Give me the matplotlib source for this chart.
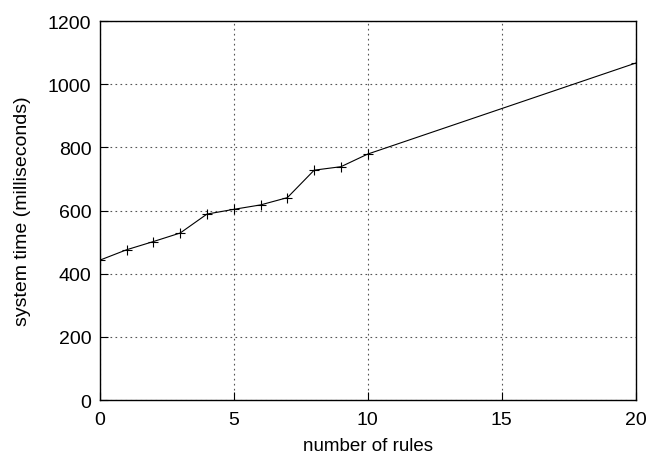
import matplotlib
matplotlib.use("Agg")
import matplotlib.pyplot as plt

# ── Dati ──────────────────────────────────────────────────────────────────────
rules = [0, 1, 2, 3, 4, 5, 6, 7, 8, 9, 10, 20]
system_ms = [443, 476, 502, 529, 589, 604, 618, 641, 728, 739, 779, 1067]

x_ticks = [0, 5, 10, 15, 20]
y_ticks = [0, 200, 400, 600, 800, 1000, 1200]

plt.rcParams["font.family"] = ["Liberation Sans", "DejaVu Sans"]

fig = plt.figure(figsize=(6.48, 4.6), dpi=100)
ax = fig.add_axes([0.154, 0.128, 0.827, 0.824])

ax.plot(rules, system_ms, color="black", lw=0.8, marker="+", ms=7, mew=0.8)

ax.set_xlim(0, 20)
ax.set_ylim(0, 1200)
ax.set_xticks(x_ticks)
ax.set_yticks(y_ticks)
ax.tick_params(direction="in", length=6, labelsize=14)
ax.tick_params(axis="x", pad=8)
ax.tick_params(axis="y", pad=6)
ax.grid(True, color="#555555", linestyle=(0, (1.5, 3)), lw=0.8)
for s in ax.spines.values():
    s.set_linewidth(1.0)

ax.set_xlabel("number of rules", fontsize=13.5, labelpad=6)
ax.set_ylabel("system time (milliseconds)", fontsize=14, labelpad=12)

fig.savefig("out.png", dpi=100)
